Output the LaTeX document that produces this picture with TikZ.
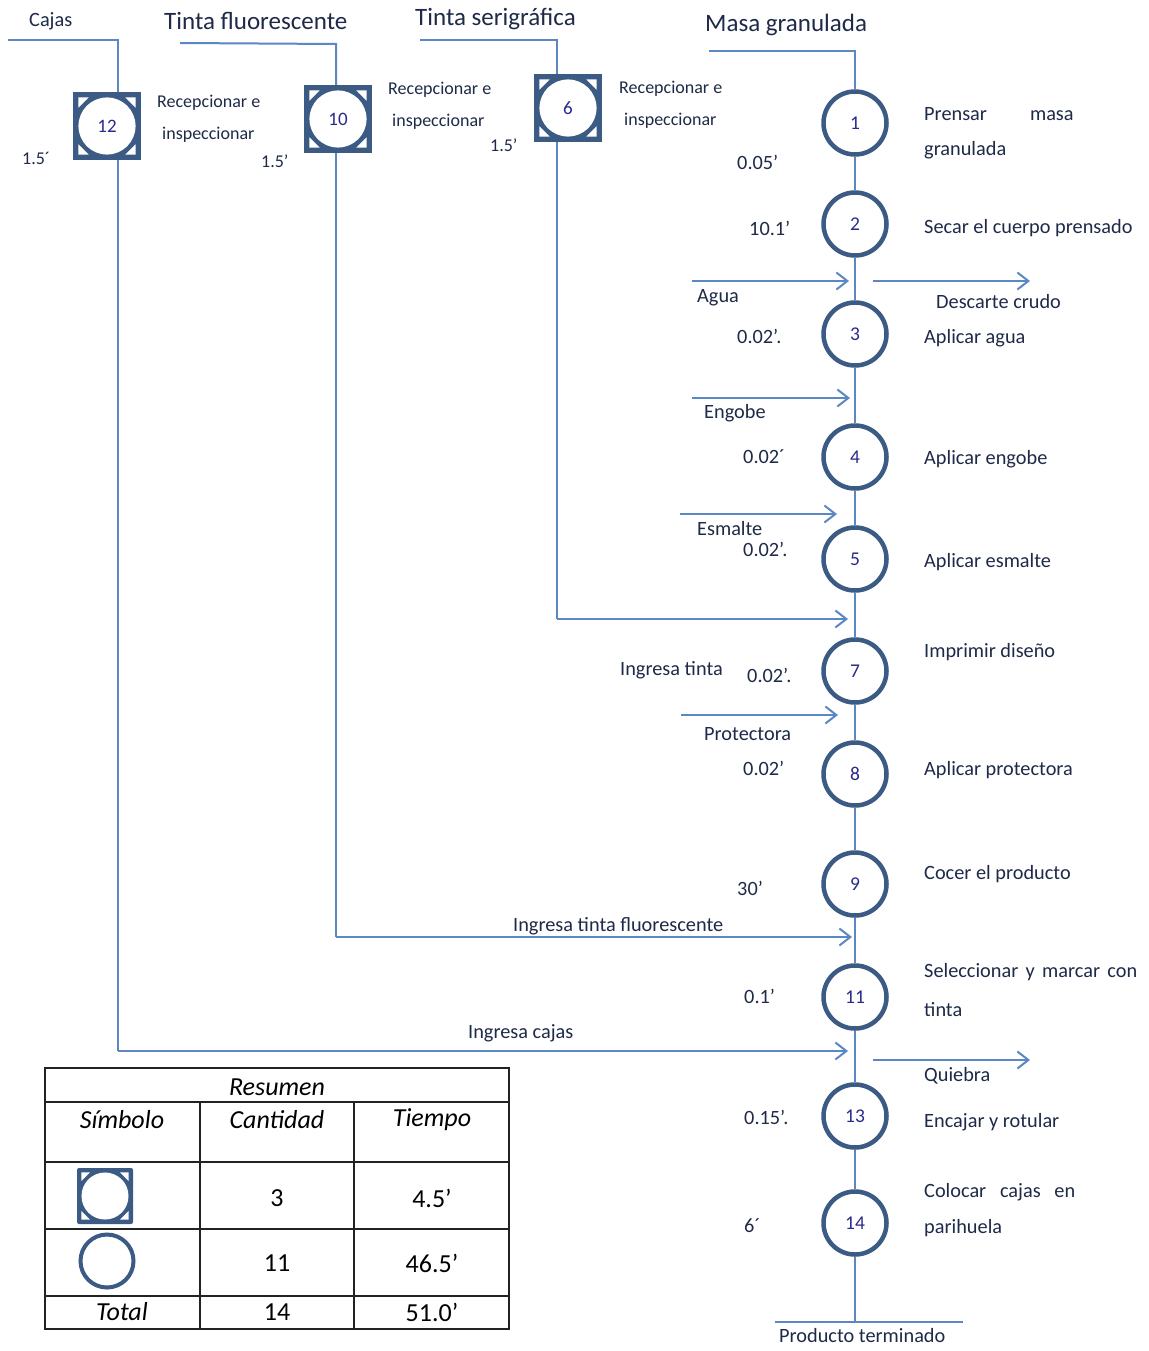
\documentclass[tikz,border=0pt]{standalone}
\usepackage{fontspec}
\setmainfont{Carlito}
\usetikzlibrary{arrows.meta,calc}
\definecolor{nodeblue}{HTML}{3B5A84}
\definecolor{linecol}{HTML}{5B87C4}
\definecolor{numcol}{HTML}{2A2A8A}
\definecolor{txt}{HTML}{1E2A48}
\definecolor{tabline}{HTML}{222222}
\tikzset{
  lbl/.style={anchor=west, inner sep=0pt, text=txt, font=\fontsize{20.3}{22}\selectfont},
  slbl/.style={anchor=west, inner sep=0pt, text=txt, font=\fontsize{18}{20}\selectfont},
  ttl/.style={anchor=west, inner sep=0pt, text=txt, font=\fontsize{25}{28}\selectfont},
  tab/.style={inner sep=0pt, text=black, font=\fontsize{26}{28}\selectfont},
  tabi/.style={tab, font=\fontsize{26}{28}\selectfont\itshape},
  conn/.style={draw=linecol, line width=2pt},
  arr/.style={conn, -{Straight Barb[length=11pt,width=17pt]}},
  num/.style={inner sep=0pt, text=numcol, font=\fontsize{19}{21}\selectfont},
  proc/.style={circle, draw=nodeblue, line width=4.5pt, fill=white, minimum size=63pt,
    inner sep=0pt, text=numcol, font=\fontsize{19.5}{21}\selectfont},
  insp/.style={rectangle, inner sep=0pt, minimum size=#1, fill=nodeblue},
}
% white circle and corner notches inside an inspection square
\newcommand{\inspdeco}[2]{%
  \fill[white] (#1.center) circle ({0.42*#2});
  \foreach \sx/\sy in {1/1,1/-1,-1/1,-1/-1}{
    \fill[white] ($(#1.center)+({\sx*0.42*#2},{\sy*0.42*#2})$) -- ++({-\sx*0.15*#2},0)
      -- ++({\sx*0.15*#2},{-\sy*0.15*#2}) -- cycle;
  }
}
\begin{document}
\begin{tikzpicture}[x=1pt,y=-1pt]
\useasboundingbox[fill=white] (0,0) rectangle (1148,1351);

% ---------- titles ----------
\node[lbl] (tCajas) at (29,21) {Cajas};
\node[ttl] (tFluor) at (164,21) {Tinta fluorescente};
\node[ttl] (tSerig) at (415,19) {Tinta serigráfica};
\node[ttl] (tMasa) at (705,25) {Masa granulada};

% ---------- main column process nodes ----------
\node[proc] (p1) at (855,123) {1};
\node[proc] (p2) at (855,224) {2};
\node[proc] (p3) at (855,334) {3};
\node[proc] (p4) at (855,457) {4};
\node[proc] (p5) at (855,559) {5};
\node[proc] (p7) at (855,671) {7};
\node[proc] (p8) at (855,774) {8};
\node[proc] (p9) at (855,884) {9};
\node[proc] (p11) at (855,997) {11};
\node[proc] (p13) at (855,1116) {13};
\node[proc] (p14) at (855,1223) {14};

\coordinate (mleft) at (709,51);
\coordinate (mtop) at (855,51);
\coordinate (mbot) at (855,1322);
\coordinate (pL) at (775,1322);
\coordinate (pR) at (963,1322);

\draw[conn] (mleft) -- (mtop) -- (p1) -- (p2) -- (p3) -- (p4) -- (p5) -- (p7) -- (p8)
  -- (p9) -- (p11) -- (p13) -- (p14) -- (mbot);
\draw[conn] (pL) -- (pR);
\node[lbl] (tProd) at (779,1336) {Producto terminado};

% ---------- inspection squares ----------
\coordinate (c12) at (118,40);
\coordinate (c12L) at (8,40);
\coordinate (c10) at (336,44);
\coordinate (c10L) at (180,43);
\coordinate (c6) at (557,40);
\coordinate (c6L) at (420,40);

\node[insp=68pt] (s12) at (107,126) {};
\node[insp=68pt] (s10) at (338,119) {};
\node[insp=68pt] (s6) at (568,108) {};

\draw[conn] (c12L) -- (c12) -- (c12 |- s12.north);
\draw[conn] (c10L) -- (c10) -- (c10 |- s10.north);
\draw[conn] (c6L) -- (c6) -- (c6 |- s6.north);

\coordinate (c12B) at (118,1051);
\coordinate (c10B) at (336,937);
\coordinate (c6B) at (557,619);
\coordinate (e12) at (848,1051);
\coordinate (e10) at (852,937);
\coordinate (e6) at (848,619);

\draw[conn] (c12B |- s12.south) -- (c12B);
\draw[arr] (c12B) -- (e12);
\draw[conn] (c10B |- s10.south) -- (c10B);
\draw[arr] (c10B) -- (e10);
\draw[conn] (c6B |- s6.south) -- (c6B);
\draw[arr] (c6B) -- (e6);

\inspdeco{s12}{68}
\node[num] (s12n) at (s12) {12};
\inspdeco{s10}{68}
\node[num] (s10n) at (s10) {10};
\inspdeco{s6}{68}
\node[num] (s6n) at (s6) {6};

\node[slbl] (r12a) at (157,103) {Recepcionar e};
\node[slbl] (r12b) at (162,135) {inspeccionar};
\node[slbl] (t12) at (22,158) {1.5´};
\node[slbl] (r10a) at (388,90) {Recepcionar e};
\node[slbl] (r10b) at (392,122) {inspeccionar};
\node[slbl] (t10) at (261,161) {1.5’};
\node[slbl] (r6a) at (619,89) {Recepcionar e};
\node[slbl] (r6b) at (624,121) {inspeccionar};
\node[slbl] (t6) at (490,145) {1.5’};

% ---------- side arrows ----------
\coordinate (aAs) at (692,281);  \coordinate (aAe) at (849,281);
\coordinate (aDs) at (873,281);  \coordinate (aDe) at (1030,281);
\coordinate (aEs) at (692,398);  \coordinate (aEe) at (850,398);
\coordinate (aSs) at (680,514);  \coordinate (aSe) at (837,514);
\coordinate (aPs) at (681,715);  \coordinate (aPe) at (838,715);
\coordinate (aQs) at (873,1060); \coordinate (aQe) at (1030,1060);
\draw[arr] (aAs) -- (aAe);
\draw[arr] (aDs) -- (aDe);
\draw[arr] (aEs) -- (aEe);
\draw[arr] (aSs) -- (aSe);
\draw[arr] (aPs) -- (aPe);
\draw[arr] (aQs) -- (aQe);

% ---------- labels ----------
\node[lbl] (l0a) at (924,114) {Prensar\hspace{43pt}masa};
\node[lbl] (l0b) at (924,150) {granulada};
\node[lbl] (l2) at (924,228) {Secar el cuerpo prensado};
\node[lbl] (l3) at (924,338) {Aplicar agua};
\node[lbl] (l4) at (924,459) {Aplicar engobe};
\node[lbl] (l5) at (924,562) {Aplicar esmalte};
\node[lbl] (l7) at (924,652) {Imprimir diseño};
\node[lbl] (l8) at (924,770) {Aplicar protectora};
\node[lbl] (l9) at (924,874) {Cocer el producto};
\node[lbl] (l11a) at (924,972) {\makebox[213pt][s]{Seleccionar y marcar con}};
\node[lbl] (l11b) at (924,1010) {tinta};
\node[lbl] (l13) at (924,1122) {Encajar y rotular};
\node[lbl] (l14a) at (924,1192) {\makebox[151pt][s]{Colocar cajas en}};
\node[lbl] (l14b) at (924,1228) {parihuela};

\node[lbl] (w1) at (737,162) {0.05’};
\node[lbl] (w2) at (749,228) {10.1’};
\node[lbl] (w3) at (737,336) {0.02’.};
\node[lbl] (w4) at (743,457) {0.02´};
\node[lbl] (w5) at (743,549) {0.02’.};
\node[lbl] (w7) at (747,675) {0.02’.};
\node[lbl] (w8) at (743,768) {0.02’};
\node[lbl] (w9) at (737,888) {30’};
\node[lbl] (w11) at (744,996) {0.1’};
\node[lbl] (w13) at (744,1117) {0.15’.};
\node[lbl] (w14) at (744,1226) {6´};

\node[lbl] (iAgua) at (697,298) {Agua};
\node[lbl] (iDesc) at (936,302) {Descarte crudo};
\node[lbl] (iEng) at (704,413) {Engobe};
\node[lbl] (iEsm) at (697,529) {Esmalte};
\node[lbl] (iTin) at (620,670) {Ingresa tinta};
\node[lbl] (iProt) at (704,734) {Protectora};
\node[lbl] (iFluo) at (513,926) {Ingresa tinta fluorescente};
\node[lbl] (iCaj) at (468,1033) {Ingresa cajas};
\node[lbl] (iQui) at (924,1076) {Quiebra};

% ---------- summary table ----------
\draw[tabline, line width=1.6pt] (45,1068) rectangle (509,1329);
\draw[tabline, line width=1.6pt] (45,1102) -- (509,1102);
\draw[tabline, line width=1.6pt] (45,1162) -- (509,1162);
\draw[tabline, line width=1.6pt] (45,1229) -- (509,1229);
\draw[tabline, line width=1.6pt] (45,1296) -- (509,1296);
\draw[tabline, line width=1.6pt] (200,1102) -- (200,1329);
\draw[tabline, line width=1.6pt] (354,1102) -- (354,1329);

\node[tabi] (hRes) at (277,1087) {Resumen};
\node[tabi] (hSim) at (122,1120) {Símbolo};
\node[tabi] (hCan) at (277,1120) {Cantidad};
\node[tabi] (hTie) at (432,1120) {Tiempo};
\node[insp=56pt, rounded corners=2pt] (ts1) at (105,1196) {};
\inspdeco{ts1}{56}
\node[circle, draw=nodeblue, line width=4pt, minimum size=53pt, inner sep=0pt] (ts2) at (107,1261) {};
\node[tab] (c1) at (277,1198) {3};
\node[tab] (d1) at (432,1198) {4.5’};
\node[tab] (c2) at (277,1263) {11};
\node[tab] (d2) at (432,1263) {46.5’};
\node[tabi] (tTot) at (122,1312) {Total};
\node[tab] (c3) at (277,1312) {14};
\node[tab] (d3) at (432,1312) {51.0’};
\end{tikzpicture}
\end{document}
